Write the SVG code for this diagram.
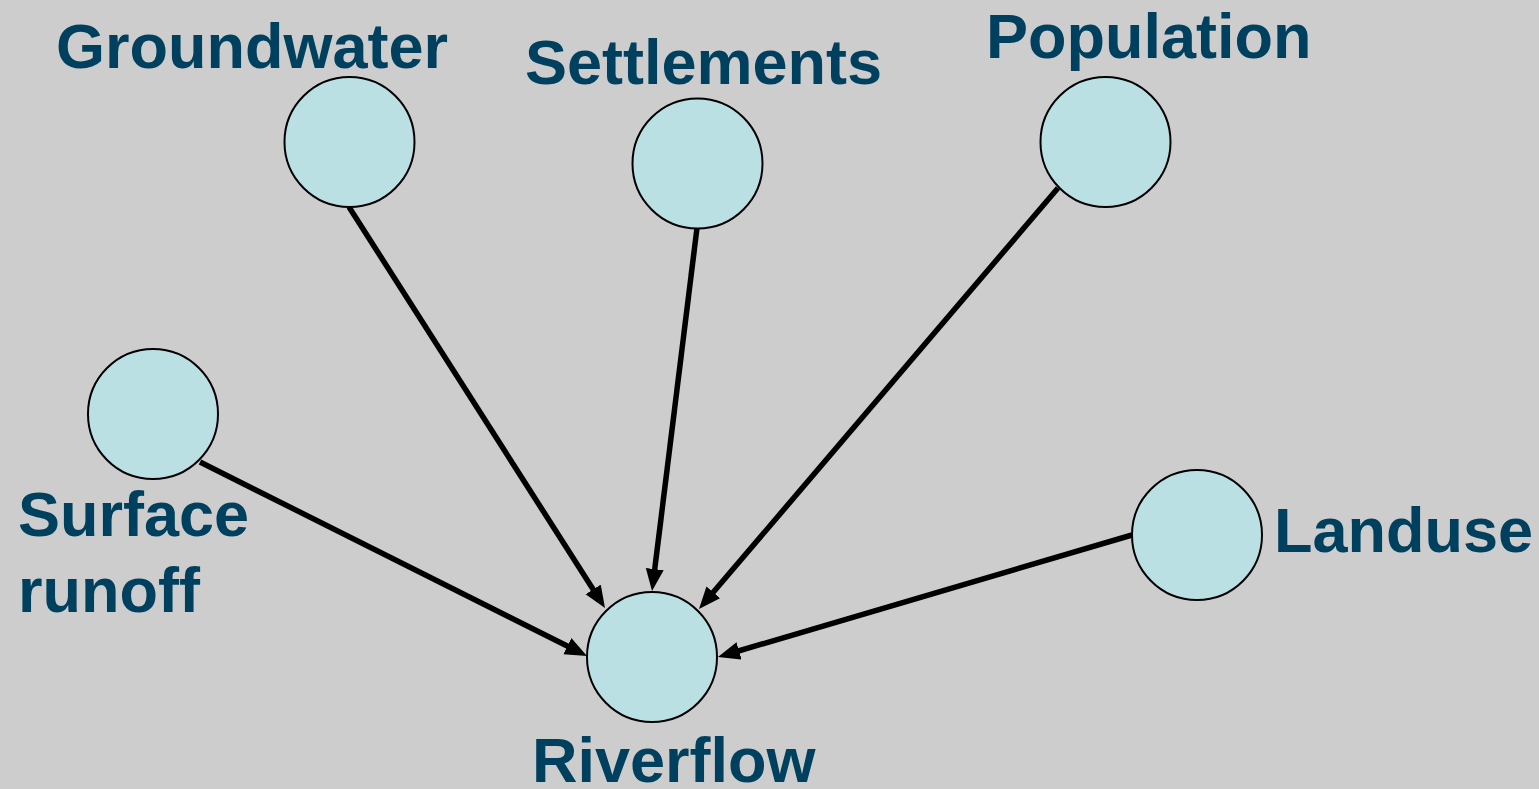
<svg xmlns="http://www.w3.org/2000/svg" width="1539" height="789" viewBox="0 0 1539 789">
  <style>
    .node circle { fill: #bae0e4; stroke: #000; stroke-width: 2; }
    .label { font-family: "Liberation Sans", Arial, sans-serif; font-weight: bold; font-size: 63px; fill: #00405f; }
    .edge { stroke: #000; stroke-width: 5.5; fill: none; marker-end: url(#arrow); }
  </style>
  <defs>
    <!-- filled arrowhead; the line stops 16px short of the tip -->
    <marker id="arrow" markerUnits="userSpaceOnUse" markerWidth="24" markerHeight="20" refX="6" refY="9" orient="auto">
      <path d="M0,0 L22,9 L0,18 z" fill="#000"/>
    </marker>
  </defs>
  <rect width="1539" height="789" fill="#cdcdcd"/>

  <g id="connectors">
    <line class="edge" x1="349" y1="207" x2="596.4" y2="594.5"/>
    <line class="edge" x1="697" y1="228" x2="654.0" y2="575.1"/>
    <line class="edge" x1="1058" y1="188" x2="709.4" y2="596.8"/>
    <line class="edge" x1="200" y1="462" x2="572.7" y2="648.8"/>
    <line class="edge" x1="1132" y1="535" x2="733.3" y2="652.5"/>
  </g>

  <g id="groundwater" class="node">
    <circle cx="349.5" cy="142" r="65"/>
    <text class="label" x="56" y="68">Groundwater</text>
  </g>
  <g id="settlements" class="node">
    <circle cx="697.5" cy="163.5" r="65"/>
    <text class="label" x="525" y="84">Settlements</text>
  </g>
  <g id="population" class="node">
    <circle cx="1105.5" cy="142" r="65"/>
    <text class="label" x="986" y="58">Population</text>
  </g>
  <g id="surface-runoff" class="node">
    <circle cx="153" cy="414" r="65"/>
    <text class="label" x="18" y="536">Surface</text>
    <text class="label" x="18" y="612">runoff</text>
  </g>
  <g id="landuse" class="node">
    <circle cx="1197" cy="535" r="65"/>
    <text class="label" x="1274" y="552">Landuse</text>
  </g>
  <g id="riverflow" class="node">
    <circle cx="652" cy="657" r="65"/>
    <text class="label" x="532" y="782">Riverflow</text>
  </g>
</svg>
